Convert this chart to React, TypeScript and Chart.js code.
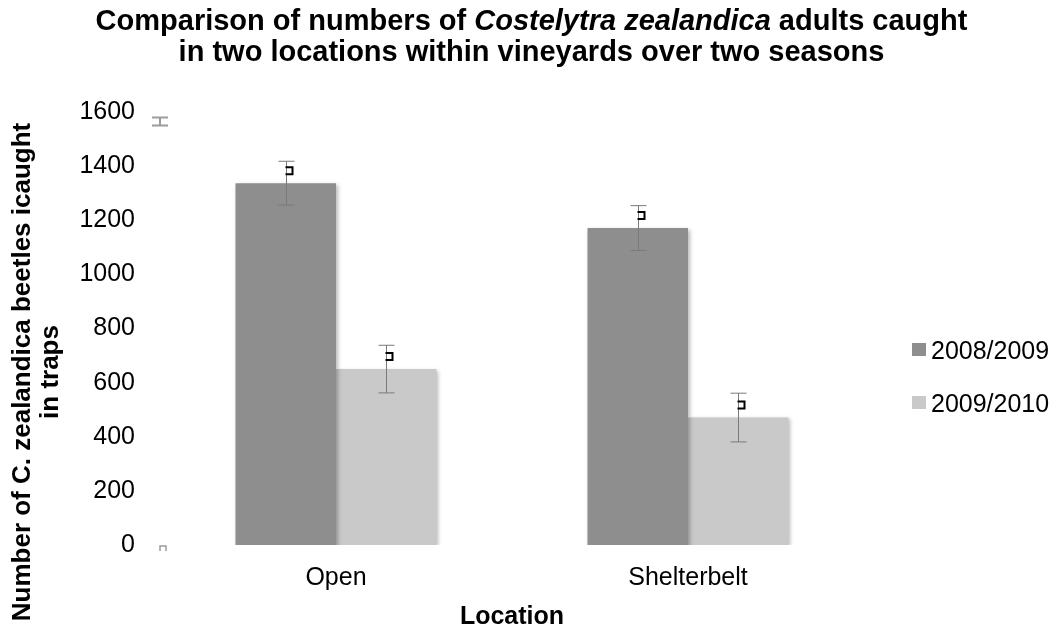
import { useEffect, useRef } from 'react';
import { Chart, registerables } from 'chart.js';

Chart.register(...registerables);

const categories = ['Open', 'Shelterbelt'];
const seriesNames = ['2008/2009', '2009/2010'];
const season1Values = [1337, 1171];
const season2Values = [650, 471];
const season1Errors = [81, 83];
const season2Errors = [88, 90];
const seriesColors = ['#8e8e8e', '#c9c9c9'];
const yMin = 0;
const yMax = 1600;
const yStep = 200;
const titleLine1 = ['Comparison of numbers of ', 'Costelytra zealandica', ' adults caught'];
const titleLine2 = 'in two locations within vineyards over two seasons';
const yTitle = ['Number of C. zealandica beetles icaught', 'in traps'];
const xTitle = 'Location';
const strayMarkValues = [1565, 0];

const FONT = "'Liberation Sans', Arial, sans-serif";

export default function App() {
  const ref = useRef<HTMLCanvasElement | null>(null);

  useEffect(() => {
    document.body.style.margin = '0';
    const canvas = ref.current;
    if (!canvas) return;

    const shadowPlugin = {
      id: 'barShadow',
      beforeDatasetsDraw(chart: any) {
        const ctx = chart.ctx;
        ctx.save();
        ctx.shadowColor = 'rgba(0,0,0,0.28)';
        ctx.shadowBlur = 4;
        ctx.shadowOffsetX = 1.5;
        ctx.shadowOffsetY = 1.5;
      },
      afterDatasetsDraw(chart: any) {
        chart.ctx.restore();
      },
    };

    const errorsAll = [season1Errors, season2Errors];
    const valuesAll = [season1Values, season2Values];

    const overlayPlugin = {
      id: 'overlay',
      afterDatasetsDraw(chart: any) {
        const ctx = chart.ctx;
        const yScale = chart.scales.y;
        ctx.save();
        valuesAll.forEach((vals, di) => {
          const meta = chart.getDatasetMeta(di);
          vals.forEach((v, j) => {
            const bar = meta.data[j];
            const x = Math.round(bar.x) + 0.5;
            const yTop = yScale.getPixelForValue(v + errorsAll[di][j]);
            const yBot = yScale.getPixelForValue(v - errorsAll[di][j]);
            ctx.strokeStyle = '#7a7a7a';
            ctx.lineWidth = 1;
            ctx.beginPath();
            ctx.moveTo(x, yTop);
            ctx.lineTo(x, yBot);
            ctx.moveTo(x - 8, yTop);
            ctx.lineTo(x + 8, yTop);
            ctx.moveTo(x - 8, yBot);
            ctx.lineTo(x + 8, yBot);
            ctx.stroke();
            const top = yScale.getPixelForValue(v);
            const l = x - 1;
            const r = x + 6;
            const t = top - 16;
            const b = top - 9;
            ctx.strokeStyle = '#000';
            ctx.lineWidth = 2;
            ctx.beginPath();
            ctx.moveTo(l, t);
            ctx.lineTo(r, t);
            ctx.lineTo(r, b);
            ctx.lineTo(l, b);
            ctx.stroke();
          });
        });
        const left = chart.chartArea.left;
        ctx.strokeStyle = '#9c9c9c';
        ctx.lineWidth = 2;
        const y1 = yScale.getPixelForValue(strayMarkValues[0]);
        ctx.beginPath();
        ctx.moveTo(left - 8, y1 - 4);
        ctx.lineTo(left + 8, y1 - 4);
        ctx.moveTo(left - 8, y1 + 4);
        ctx.lineTo(left + 8, y1 + 4);
        ctx.moveTo(left, y1 - 4);
        ctx.lineTo(left, y1 + 4);
        ctx.stroke();
        const y0 = yScale.getPixelForValue(strayMarkValues[1]);
        ctx.lineWidth = 1.5;
        ctx.beginPath();
        ctx.moveTo(left + 0, y0 + 6);
        ctx.lineTo(left + 0, y0 + 1);
        ctx.lineTo(left + 6, y0 + 1);
        ctx.lineTo(left + 6, y0 + 6);
        ctx.stroke();
        ctx.restore();
      },
      afterDraw(chart: any) {
        const ctx = chart.ctx;
        ctx.save();
        ctx.fillStyle = '#000';
        ctx.textBaseline = 'middle';
        const bold = `bold 29px ${FONT}`;
        const boldItalic = `italic bold 29px ${FONT}`;
        const fonts = [bold, boldItalic, bold];
        let total = 0;
        const widths = titleLine1.map((s, i) => {
          ctx.font = fonts[i];
          const w = ctx.measureText(s).width;
          total += w;
          return w;
        });
        let x = chart.width / 2 - total / 2;
        ctx.textAlign = 'left';
        titleLine1.forEach((s, i) => {
          ctx.font = fonts[i];
          ctx.fillText(s, x, 21.5);
          x += widths[i];
        });
        ctx.font = bold;
        ctx.textAlign = 'center';
        ctx.fillText(titleLine2, chart.width / 2, 53);

        // y axis title
        ctx.save();
        ctx.font = `bold 26px ${FONT}`;
        ctx.textAlign = 'center';
        ctx.translate(23, 372);
        ctx.rotate(-Math.PI / 2);
        yTitle.forEach((line, i) => ctx.fillText(line, 0, i * 28));
        ctx.restore();

        // legend
        ctx.font = `25px ${FONT}`;
        ctx.textAlign = 'left';
        seriesNames.forEach((name, i) => {
          const cy = 350 + i * 53;
          ctx.fillStyle = seriesColors[i];
          ctx.fillRect(912, cy - 7, 14, 13);
          ctx.fillStyle = '#000';
          ctx.fillText(name, 931, cy + 2);
        });
        ctx.restore();
      },
    };

    const chart = new Chart(canvas, {
      type: 'bar',
      data: {
        labels: categories,
        datasets: [
          {
            label: seriesNames[0],
            data: season1Values,
            backgroundColor: seriesColors[0],
            categoryPercentage: 0.571,
            barPercentage: 1,
          },
          {
            label: seriesNames[1],
            data: season2Values,
            backgroundColor: seriesColors[1],
            categoryPercentage: 0.571,
            barPercentage: 1,
          },
        ],
      },
      options: {
        animation: false,
        responsive: false,
        maintainAspectRatio: false,
        layout: { padding: { top: 112, right: 199, left: 0, bottom: 0 } },
        plugins: {
          legend: { display: false },
          title: { display: false },
          tooltip: { enabled: false },
        },
        scales: {
          x: {
            grid: { display: false, drawTicks: false },
            border: { display: false },
            ticks: { color: '#000', font: { size: 25, family: FONT }, padding: 18 },
            title: {
              display: true,
              text: xTitle,
              color: '#000',
              font: { size: 25, weight: 'bold', family: FONT, lineHeight: 1.2 },
              padding: { top: 0, bottom: 1 },
            },
            afterFit(scale: any) {
              scale.height = 88;
            },
          },
          y: {
            min: yMin,
            max: yMax,
            grid: { display: false, drawTicks: false },
            border: { display: false },
            ticks: {
              stepSize: yStep,
              color: '#000',
              font: { size: 25, family: FONT },
              padding: 25,
              callback: (v: any) => String(v),
            },
            title: { display: false },
            afterFit(scale: any) {
              scale.width = 160;
            },
          },
        },
      },
      plugins: [shadowPlugin, overlayPlugin],
    });

    return () => chart.destroy();
  }, []);

  return (
    <div style={{ width: 1063, height: 633 }}>
      <canvas ref={ref} width={1063} height={633} style={{ display: 'block' }} />
    </div>
  );
}
